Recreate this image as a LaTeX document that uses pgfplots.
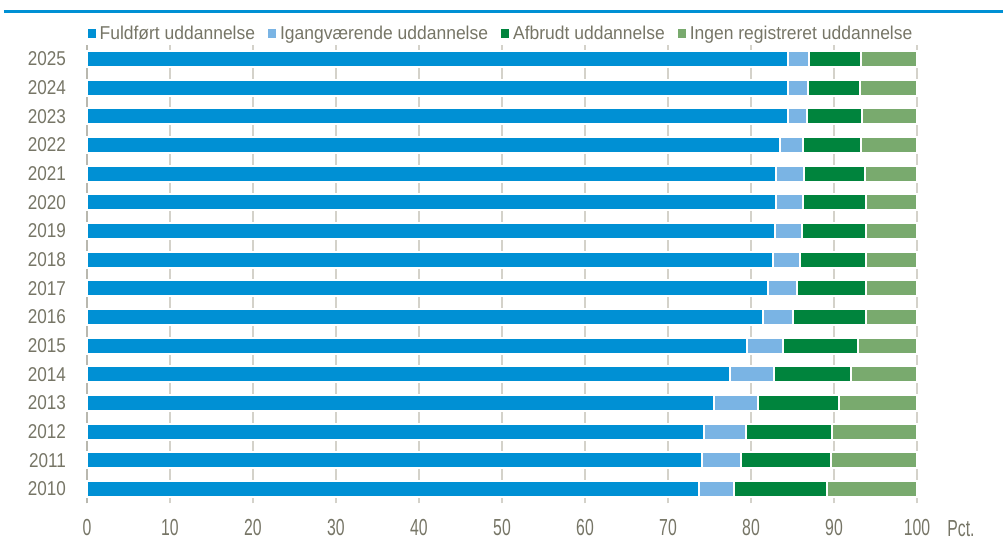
\documentclass[border=0pt]{standalone}
\usepackage{fontspec}
\setmainfont{Liberation Sans}[FakeStretch=0.855]
\newfontfamily\xfont{Liberation Sans}[FakeStretch=0.68]
\newfontfamily\lfont{Liberation Sans}[FakeStretch=0.94]
\usepackage{pgfplots}
\usepackage{pgfplotstable}
\pgfplotsset{compat=1.18}
\definecolor{cA}{RGB}{0,144,212}
\definecolor{cB}{RGB}{122,180,228}
\definecolor{cC}{RGB}{0,132,61}
\definecolor{cD}{RGB}{121,170,110}
\definecolor{txt}{RGB}{118,117,102}
\definecolor{gridc}{RGB}{212,210,202}
\definecolor{axc}{RGB}{185,184,175}
\pgfplotstableread{
idx a b c d
0 73.7 4.3 11.2 10.8
1 74.1 4.7 10.8 10.4
2 74.3 5.1 10.3 10.3
3 75.5 5.3 9.8 9.4
4 77.5 5.3 9.3 7.9
5 79.5 4.4 9.0 7.1
6 81.5 3.6 8.7 6.2
7 82.1 3.4 8.3 6.2
8 82.7 3.2 8.0 6.1
9 82.9 3.3 7.7 6.1
10 83.0 3.3 7.6 6.1
11 83.0 3.4 7.3 6.3
12 83.5 2.8 7.0 6.7
13 84.4 2.4 6.6 6.6
14 84.4 2.5 6.2 6.9
15 84.5 2.5 6.3 6.7
}\data
\begin{document}
\begin{tikzpicture}
\begin{axis}[
  scale only axis,
  width=415pt, height=229.3pt,
  xbar stacked,
  bar width=8pt,
  xmin=0, xmax=100,
  ymin=-0.5, ymax=15.5,
  xtick={0,10,...,100},
  ytick={0,...,15},
  yticklabels={2010,2011,2012,2013,2014,2015,2016,2017,2018,2019,2020,2021,2022,2023,2024,2025},
  axis line style={draw=none},
  major tick length=0pt,
  tick style={draw=none},
  xmajorgrids,
  major grid style={gridc, line width=1pt},
  /pgf/number format/assume math mode=true,
  yticklabel style={font=\fontsize{10}{12}\selectfont, text=txt, xshift=-7pt},
  xticklabel style={font=\xfont\fontsize{11.6}{13}\selectfont, text=txt, yshift=-4.4pt},
  legend columns=4,
  legend style={draw=none, fill=none, at={(0.5,1)}, anchor=south, yshift=-1pt,
    font=\lfont\fontsize{9.3}{11}\selectfont, text=txt,
    /tikz/every even column/.append style={column sep=4.5pt},
    inner sep=0pt},
  legend image code/.code={\fill[#1,draw=none] (0pt,-2.2pt) rectangle (4pt,2.3pt);},
  clip=false,
]
\addplot[fill=cA, draw=white, line width=1pt] table[x=a, y=idx]{\data};
\addplot[fill=cB, draw=white, line width=1pt] table[x=b, y=idx]{\data};
\addplot[fill=cC, draw=white, line width=1pt] table[x=c, y=idx]{\data};
\addplot[fill=cD, draw=white, line width=1pt] table[x=d, y=idx]{\data};
\legend{Fuldført uddannelse, Igangværende uddannelse, Afbrudt uddannelse, Ingen registreret uddannelse}
\draw[axc, line width=1.2pt] (rel axis cs:0,0) -- (rel axis cs:0,1);
\draw[cA, line width=1.5pt] (rel axis cs:-0.1000,1.0713) -- (rel axis cs:1.1036,1.0713);
\node[anchor=base west, inner sep=0pt, xshift=15pt, yshift=-16.7pt, text=txt, font=\xfont\fontsize{11.6}{13}\selectfont] at (rel axis cs:1,0) {Pct.};
\coordinate (bl) at (rel axis cs:-0.10482,-0.07783);
\coordinate (tr) at (rel axis cs:1.10361,1.09745);
\end{axis}
\pgfresetboundingbox
\path[use as bounding box] (bl) rectangle (tr);
\end{tikzpicture}
\end{document}
